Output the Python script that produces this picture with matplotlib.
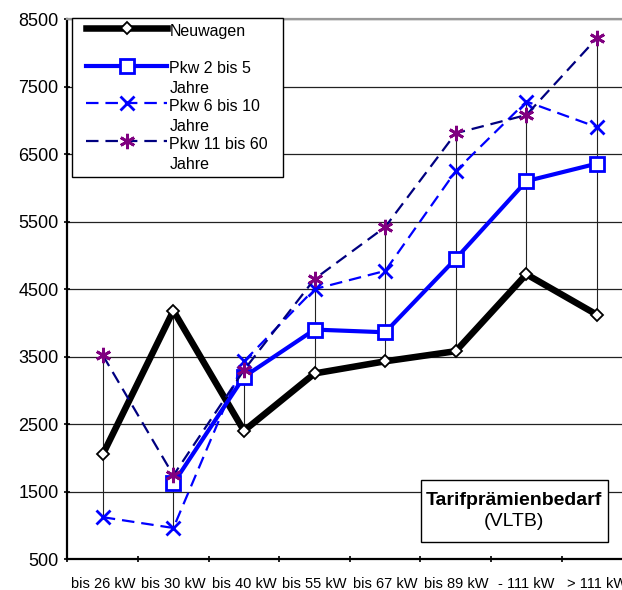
import matplotlib
matplotlib.use("Agg")
import matplotlib.pyplot as plt
import numpy as np
from matplotlib.lines import Line2D
from matplotlib.legend_handler import HandlerLine2D
from matplotlib.offsetbox import AnchoredOffsetbox, TextArea, VPacker, DrawingArea

plt.rcParams["font.family"] = ["Liberation Sans", "DejaVu Sans"]
plt.rcParams["lines.scale_dashes"] = False

# Daten
kategorien = ["bis 26 kW", "bis 30 kW", "bis 40 kW", "bis 55 kW",
              "bis 67 kW", "bis 89 kW", "- 111 kW", "> 111 kW"]
neuwagen = [2050, 4180, 2400, 3250, 3430, 3580, 4720, 4120]
pkw_2_5 = [np.nan, 1620, 3200, 3900, 3860, 4950, 6100, 6360]
pkw_6_10 = [1120, 960, 3430, 4500, 4770, 6250, 7280, 6900]
pkw_11_60 = [3520, 1740, 3300, 4650, 5420, 6810, 7080, 8220]
y_ticks = [500, 1500, 2500, 3500, 4500, 5500, 6500, 7500, 8500]

fig = plt.figure(figsize=(6.22, 5.90), dpi=100)
ax = fig.add_axes([0.1085, 0.0525, 0.908, 0.915])

x = np.arange(len(kategorien))
alle = np.array([neuwagen, pkw_2_5, pkw_6_10, pkw_11_60], dtype=float)

# Hoch-Tief-Linien
ax.vlines(x, np.nanmin(alle, axis=0), np.nanmax(alle, axis=0),
          color="#222222", linewidth=0.8, zorder=2)

ax.plot(x, neuwagen, "-", color="black", linewidth=4.7, marker="D",
        markersize=6.5, markerfacecolor="white", markeredgecolor="black",
        markeredgewidth=1.3, label="Neuwagen\n", zorder=3)
ax.plot(x, pkw_2_5, "-", color="#0000FF", linewidth=3, marker="s",
        markersize=10, markerfacecolor="white", markeredgecolor="#0000FF",
        markeredgewidth=2, label="Pkw 2 bis 5\nJahre", zorder=4)
ax.plot(x, pkw_6_10, color="#0000FF", linewidth=1.6, dashes=(9, 5),
        marker="x", markersize=10, markeredgewidth=2,
        label="Pkw 6 bis 10\nJahre", zorder=5)
ax.plot(x, pkw_11_60, color="#000080", linewidth=1.6, dashes=(9, 5),
        marker=(6, 2, 0), markersize=11, markeredgecolor="#800080",
        markeredgewidth=2, label="Pkw 11 bis 60  \nJahre", zorder=6)

ax.set_xlim(-0.5, len(kategorien) - 0.5)
ax.set_ylim(500, 8500)
ax.set_yticks(y_ticks)
ax.set_yticklabels([str(v) for v in y_ticks], fontsize=13)
ax.set_xticks(x)
ax.set_xticklabels(kategorien, fontsize=10.5)
ax.set_xticks(np.arange(len(kategorien) + 1) - 0.5, minor=True)
ax.tick_params(axis="x", which="major", length=0, pad=13)
ax.tick_params(axis="x", which="minor", length=5, width=1.2, direction="inout")
ax.tick_params(axis="y", length=5, width=1.2, direction="inout", pad=4)

ax.grid(True, axis="y", color="#222222", linewidth=0.9, zorder=1)
ax.set_axisbelow(True)
ax.spines["left"].set_linewidth(1.6)
ax.spines["bottom"].set_linewidth(1.6)
ax.spines["top"].set_color("#999999")
ax.spines["top"].set_linewidth(1.6)
ax.spines["right"].set_visible(False)

leg = ax.legend(loc="upper left", bbox_to_anchor=(0.008, 1.002), borderaxespad=0,
                fontsize=11.5, handlelength=5.6, handleheight=0.2, handletextpad=0.15,
                numpoints=1, labelspacing=0.18, borderpad=0.35, fancybox=False,
                framealpha=1, edgecolor="black",
                handler_map={Line2D: HandlerLine2D(xpad=0.55)})
leg.get_frame().set_linewidth(1.0)
for t in leg.get_texts():
    t.set_linespacing(1.4)
for col in leg._legend_handle_box.get_children():
    for item in col.get_children():
        item.align = "top"

titel = TextArea("Tarifprämienbedarf", textprops=dict(fontsize=14, fontweight="bold"))
unter = TextArea("(VLTB)", textprops=dict(fontsize=14))
pack = VPacker(children=[DrawingArea(1, 2), titel, unter, DrawingArea(1, 2)],
               align="center", pad=0, sep=3)
box = AnchoredOffsetbox(loc="center", child=pack, pad=0.38, borderpad=0,
                        bbox_to_anchor=(0.791, 0.089), bbox_transform=ax.transAxes,
                        frameon=True)
box.patch.set_boxstyle("square", pad=0)
box.patch.set_edgecolor("black")
box.patch.set_linewidth(1.0)
ax.add_artist(box)

fig.savefig("out.png", dpi=100)
